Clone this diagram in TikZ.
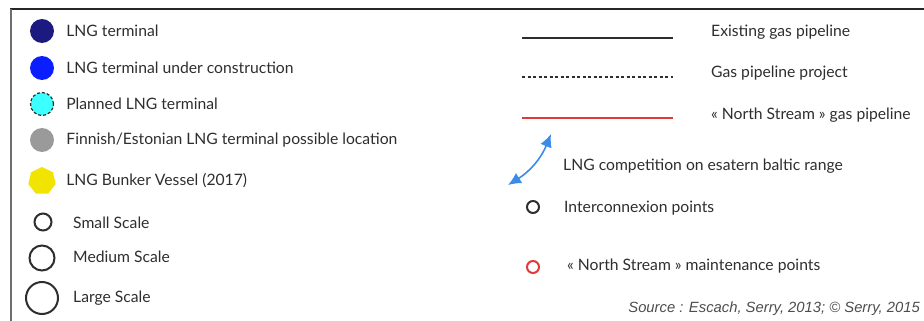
\documentclass[tikz,border=0pt]{standalone}
\usepackage{fontspec}
\setmainfont{Lato}
\newfontfamily\srcfont{Liberation Sans}
\usetikzlibrary{positioning,arrows.meta,shapes.geometric}
\definecolor{navy}{HTML}{1C1A80}
\definecolor{bluebuild}{HTML}{0A1EFF}
\definecolor{cyanplan}{HTML}{3CFFFF}
\definecolor{greyloc}{HTML}{9A9A9A}
\definecolor{yellowship}{HTML}{F0E400}
\definecolor{arrowblue}{HTML}{3A8CE8}
\definecolor{redpipe}{HTML}{E23A3A}
\definecolor{txt}{HTML}{2E2E2E}
\definecolor{frame}{HTML}{6E6E6E}
\tikzset{
  dot/.style={circle,inner sep=0pt,minimum size=24pt},
  ring/.style={circle,draw=txt,line width=2pt,inner sep=0pt},
  key/.style={anchor=west,inner sep=0pt,text=txt,font=\fontsize{15.7}{18}\selectfont},
  pipe/.style={line width=1.5pt},
  compet/.style={{Latex[length=13pt,width=12pt]}-{Latex[length=13pt,width=12pt]},draw=arrowblue,line width=1.6pt}}
\begin{document}
\begin{tikzpicture}[x=1pt,y=-1pt]
  \useasboundingbox (0,0) rectangle (924,321);
  \draw[line width=2pt,color=black!85] (10,9.5) -- (924,9.5);
  \draw[line width=2pt,color=frame] (11,9) -- (11,321);
  % terminals
  \node[dot,fill=navy] (term) at (42,31) {};
  \node[dot,fill=bluebuild] (build) at (42,68) {};
  \node[dot,fill=cyanplan,draw=txt,densely dashed,line width=1.2pt,minimum size=23pt] (plan) at (42,104) {};
  \node[dot,fill=greyloc] (loc) at (42,140) {};
  \node[regular polygon,regular polygon sides=7,fill=yellowship,inner sep=0pt,minimum size=28pt] (ship) at (42,181) {};
  \node[key,right=12pt of term] {LNG terminal};
  \node[key,right=12pt of build] {LNG terminal under construction};
  \node[key,right=12pt of plan] {Planned LNG terminal};
  \node[key,right=12pt of loc] {Finnish/Estonian LNG terminal possible location};
  \node[key,right=11pt of ship] {LNG Bunker Vessel (2017)};
  % scales
  \node[ring,minimum size=17pt] (small) at (43,222) {};
  \node[ring,minimum size=25pt] (medium) at (42,258) {};
  \node[ring,minimum size=32pt] (large) at (42,298) {};
  \node[key] at (73,223) {Small Scale};
  \node[key] at (73,257) {Medium Scale};
  \node[key] at (73,298) {Large Scale};
  % pipelines
  \coordinate (ex1) at (522,38);  \coordinate (ex2) at (673,38);
  \coordinate (pr1) at (522,77);  \coordinate (pr2) at (673,77);
  \coordinate (ns1) at (522,118); \coordinate (ns2) at (673,118);
  \draw[pipe,color=txt] (ex1) -- (ex2);
  \draw[pipe,color=txt,dash pattern=on 3pt off 2.5pt] (pr1) -- (pr2);
  \draw[pipe,color=redpipe] (ns1) -- (ns2);
  \node[key] (exlbl) at (711,32) {Existing gas pipeline};
  \node[key] (prlbl) at (711,73) {Gas pipeline project};
  \node[key] (nslbl) at (711,115) {« North Stream » gas pipeline};
  % competition
  \coordinate (cmpa) at (508,185);
  \coordinate (cmpb) at (551,134);
  \draw[compet] (cmpa) to[bend right=18] (cmpb);
  \node[key] (cmplbl) at (563,166) {LNG competition on esatern baltic range};
  % points
  \node[ring,minimum size=12pt] (inter) at (533,207) {};
  \node[ring,draw=redpipe,minimum size=12pt] (maint) at (533,267) {};
  \node[key] at (564,208) {Interconnexion points};
  \node[key] at (567,266) {« North Stream » maintenance points};
  \node[anchor=east,inner sep=0pt,text=txt!85,font=\srcfont\itshape\fontsize{14.8}{17}\selectfont] (src) at (920,309) {Source : Escach, Serry, 2013; © Serry, 2015};
\end{tikzpicture}
\end{document}
